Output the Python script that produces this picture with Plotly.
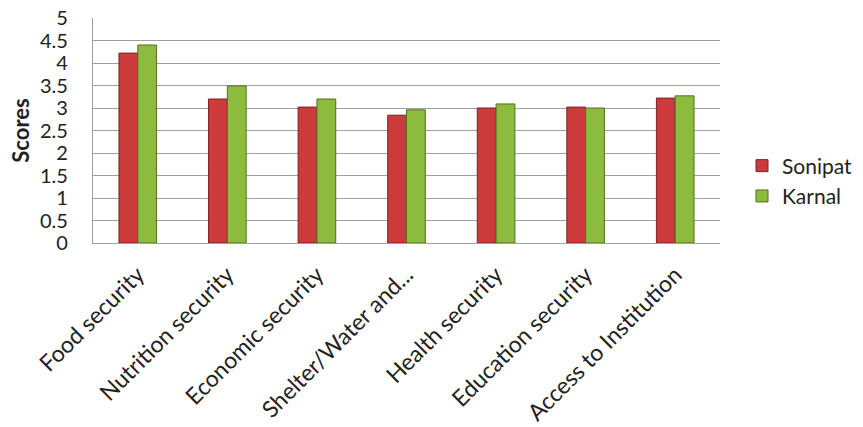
import plotly.graph_objects as go

categories = ["Food security", "Nutrition security", "Economic security", "Shelter/Water and...",
              "Health security", "Education security", "Access to Institution"]
sonipat = [4.22, 3.2, 3.02, 2.84, 3.0, 3.02, 3.22]
karnal = [4.4, 3.49, 3.2, 2.96, 3.09, 3.0, 3.27]
y_ticks = [0, 0.5, 1, 1.5, 2, 2.5, 3, 3.5, 4, 4.5, 5]

font_family = "Lato, Liberation Sans, Arial"

fig = go.Figure()
fig.add_trace(go.Bar(x=categories, y=sonipat, name="Sonipat",
                     marker=dict(color="#CC3B3B", line=dict(color="#7E2020", width=1))))
fig.add_trace(go.Bar(x=categories, y=karnal, name="Karnal",
                     marker=dict(color="#8DBB3E", line=dict(color="#536F22", width=1))))

fig.update_layout(
    width=863, height=427,
    margin=dict(l=93, r=143, t=18, b=184, autoexpand=False),
    paper_bgcolor="white", plot_bgcolor="white",
    barmode="group", bargap=0.58, bargroupgap=0,
    font=dict(family=font_family, size=20, color="#222"),
    legend=dict(xref="container", yref="container", x=742/863, y=1 - 181/427,
                xanchor="left", yanchor="middle",
                font=dict(size=21), itemwidth=30, tracegroupgap=2),
    showlegend=True,
)
fig.update_yaxes(range=[0, 5], tickvals=y_ticks, ticktext=[f"{v:g}" for v in y_ticks],
                 showgrid=True, gridcolor="#A0A0A0", gridwidth=1.3,
                 showline=True, linecolor="#A0A0A0", linewidth=1.3,
                 ticks="outside", ticklen=20, tickcolor="rgba(0,0,0,0)",
                 tickfont=dict(size=20), automargin=False,
                 title=dict(text="<b>Scores</b>", font=dict(size=22), standoff=4))
fig.update_xaxes(tickangle=-45, showline=True, linecolor="#A0A0A0", linewidth=1.3,
                 ticks="outside", ticklen=8, tickcolor="rgba(0,0,0,0)",
                 tickfont=dict(size=23), automargin=False)

fig.write_html("out.html")
